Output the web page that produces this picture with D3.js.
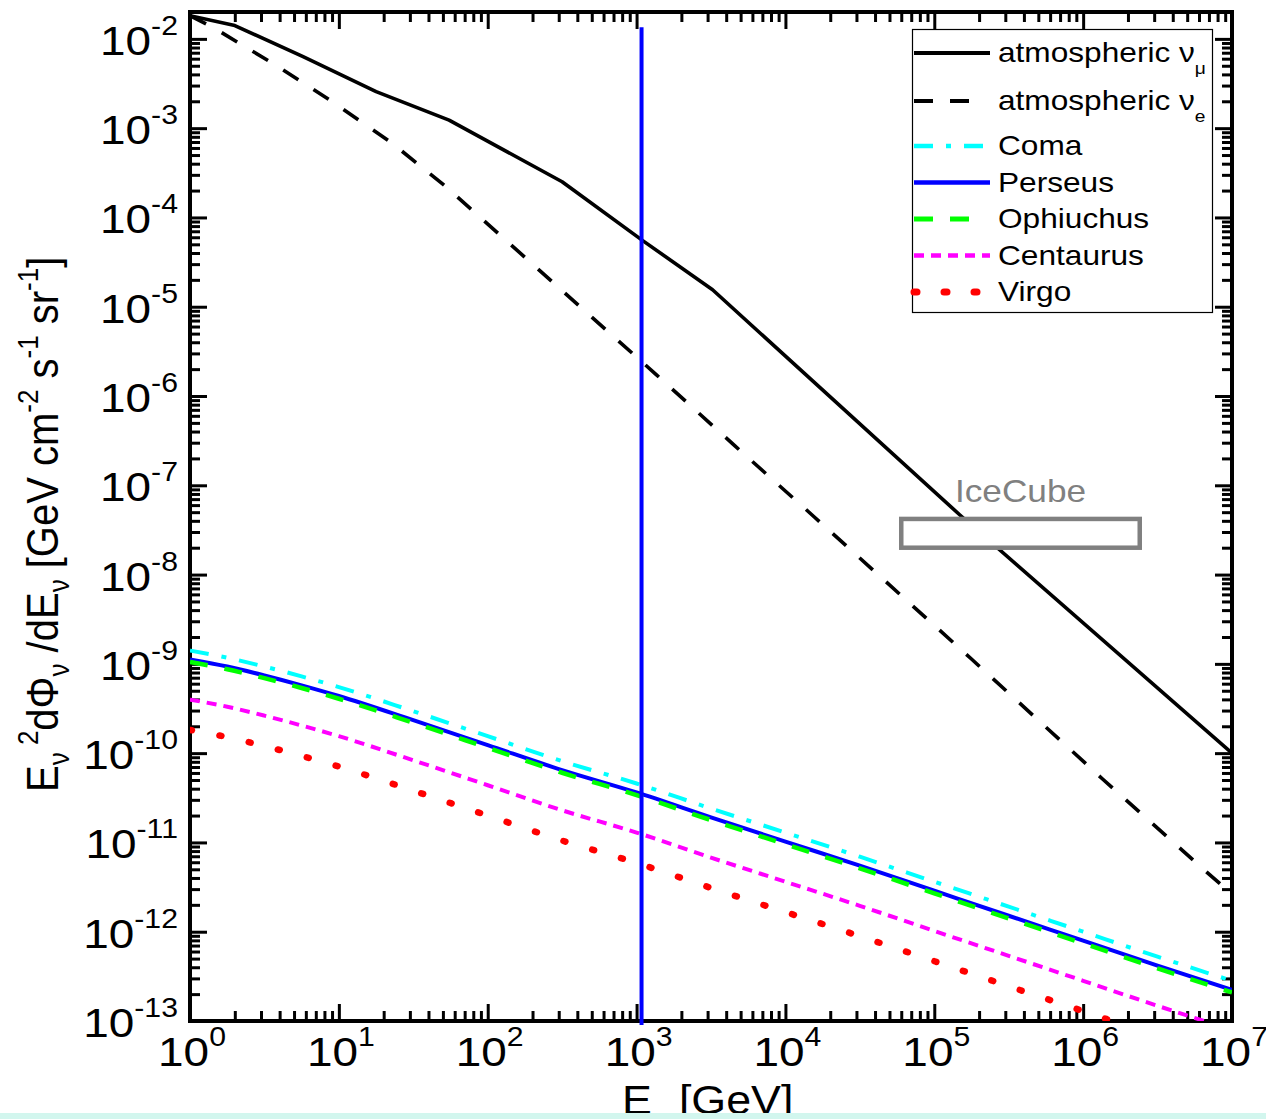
<!DOCTYPE html>
<html>
<head>
<meta charset="utf-8">
<script src="https://cdn.jsdelivr.net/npm/d3@7"></script>
<style>
  html, body { margin: 0; padding: 0; background: #ffffff; }
  svg { display: block; }
  text { font-family: "Liberation Sans", Arial, Helvetica, sans-serif; fill: #000; }
</style>
</head>
<body>
<svg id="chart" width="1266" height="1119"></svg>
<script>
// ---------------- data ----------------
// Energy grid (GeV) for the galaxy-cluster neutrino spectra
const clusterEnergy = [1, 1.78, 3.16, 5.62, 10, 31.6, 100, 316, 1e3, 3.16e3, 1e4, 3.16e4, 1e5, 3.16e5, 1e6, 3.16e6, 1e7];
// E^2 dPhi/dE  [GeV cm^-2 s^-1 sr^-1]
const comaFlux      = [1.41e-9, 1.17e-9, 9.33e-10, 7.24e-10, 5.50e-10, 2.95e-10, 1.55e-10, 8.13e-11, 4.57e-11, 2.40e-11, 1.29e-11, 6.92e-12, 3.63e-12, 1.91e-12, 1.00e-12, 5.25e-13, 2.82e-13];
const perseusFlux   = [1.12e-9, 9.33e-10, 7.41e-10, 5.75e-10, 4.37e-10, 2.34e-10, 1.23e-10, 6.46e-11, 3.63e-11, 1.91e-11, 1.02e-11, 5.50e-12, 2.88e-12, 1.51e-12, 7.94e-13, 4.17e-13, 2.24e-13];
const ophiuchusFlux = [1.05e-9, 8.71e-10, 6.92e-10, 5.37e-10, 4.07e-10, 2.19e-10, 1.15e-10, 6.03e-11, 3.39e-11, 1.78e-11, 9.55e-12, 5.13e-12, 2.69e-12, 1.41e-12, 7.41e-13, 3.89e-13, 2.09e-13];
const centaurusFlux = [3.98e-10, 3.31e-10, 2.63e-10, 2.04e-10, 1.55e-10, 8.32e-11, 4.37e-11, 2.29e-11, 1.29e-11, 6.76e-12, 3.63e-12, 1.95e-12, 1.02e-12, 5.37e-13, 2.82e-13, 1.48e-13, 7.94e-14];
const virgoFlux     = [1.82e-10, 1.51e-10, 1.20e-10, 9.33e-11, 7.08e-11, 3.80e-11, 2.00e-11, 1.05e-11, 5.89e-12, 3.09e-12, 1.66e-12, 8.91e-13, 4.68e-13, 2.45e-13, 1.29e-13, 6.76e-14, 3.63e-14];

// Atmospheric muon-neutrino background
const atmMuEnergy = [1, 2.0, 5.75, 17.8, 55.0, 316, 1100, 3240, 1.48e5, 1e7];
const atmMuFlux   = [1.82e-2, 1.41e-2, 6.31e-3, 2.57e-3, 1.23e-3, 2.51e-4, 5.50e-5, 1.55e-5, 4.68e-8, 1.0e-10];

// Atmospheric electron-neutrino background
const atmEEnergy = [1, 1.40, 2.20, 3.54, 8.95, 22.3, 52.2, 119, 266, 1343, 4560, 1.57e4, 1.77e5, 1.35e6, 6.76e6, 1e7];
const atmEFlux   = [1.82e-2, 1.37e-2, 8.71e-3, 5.41e-3, 2.00e-3, 6.98e-4, 2.22e-4, 6.52e-5, 1.96e-5, 1.76e-6, 2.78e-7, 4.39e-8, 1.14e-9, 5.14e-11, 4.65e-12, 2.63e-12];

// Vertical marker near 1 TeV
const markerEnergy = 1.08e3;
const markerFlux   = [9.0e-14, 1.35e-2];

// IceCube sensitivity band
const iceCubeEnergy = [6.0e4, 2.4e6];
const iceCubeFlux   = [2.0e-8, 4.2e-8];
const iceCubeLabel  = "IceCube";

// Axis tick labels (powers of ten)
const xTickExponents = ["0", "1", "2", "3", "4", "5", "6", "7"];
const yTickExponents = ["-2", "-3", "-4", "-5", "-6", "-7", "-8", "-9", "-10", "-11", "-12", "-13"];

// Legend entries
const legendNames = ["atmospheric ν", "atmospheric ν", "Coma", "Perseus", "Ophiuchus", "Centaurus", "Virgo"];
const legendSubs  = ["μ", "e", "", "", "", "", ""];

// ---------------- layout ----------------
const svg = d3.select("#chart");
const W = 1266, H = 1119;
const plot = { left: 190, right: 1232, top: 12, bottom: 1021 };
const SX = 1.12; // horizontal text stretch of the figure

svg.append("rect").attr("width", W).attr("height", H).attr("fill", "#ffffff");

const x = d3.scaleLog().domain([1, 1e7]).range([plot.left, plot.right]);
const y = d3.scaleLog().domain([1e-13, 2e-2]).range([plot.bottom, plot.top]);

// ---------------- ticks ----------------
const majorX = xTickExponents.map(e => Math.pow(10, +e));
const majorY = yTickExponents.map(e => Math.pow(10, +e));
const minorX = [];
for (let e = 0; e < 7; e++) for (let m = 2; m <= 9; m++) minorX.push(m * Math.pow(10, e));
const minorY = [];
for (let e = -13; e < -2; e++) for (let m = 2; m <= 9; m++) minorY.push(m * Math.pow(10, e));

const MAJ = 17, MIN = 10;
function drawAxis(axisFn, scale, values, size, tx, ty) {
  const g = svg.append("g")
    .attr("transform", `translate(${tx},${ty})`)
    .call(axisFn(scale).tickValues(values).tickSize(-size).tickFormat(""));
  g.select(".domain").remove();
  g.selectAll(".tick line").attr("stroke", "#000").attr("stroke-width", 3);
  return g;
}
drawAxis(d3.axisBottom, x, majorX, MAJ, 0, plot.bottom);
drawAxis(d3.axisBottom, x, minorX, MIN, 0, plot.bottom);
drawAxis(d3.axisTop, x, majorX, MAJ, 0, plot.top);
drawAxis(d3.axisTop, x, minorX, MIN, 0, plot.top);
drawAxis(d3.axisLeft, y, majorY, MAJ, plot.left, 0);
drawAxis(d3.axisLeft, y, minorY, MIN, plot.left, 0);
drawAxis(d3.axisRight, y, majorY, MAJ, plot.right, 0);
drawAxis(d3.axisRight, y, minorY, MIN, plot.right, 0);

// frame
svg.append("rect")
  .attr("x", plot.left).attr("y", plot.top)
  .attr("width", plot.right - plot.left).attr("height", plot.bottom - plot.top)
  .attr("fill", "none").attr("stroke", "#000").attr("stroke-width", 4);

// tick labels: 10 with a superscript exponent
function powerLabel(tx, ty, exp, anchor) {
  const t = svg.append("g")
    .attr("transform", `translate(${tx},${ty}) scale(${SX},1)`)
    .append("text").attr("text-anchor", anchor);
  t.append("tspan").attr("font-size", 41).text("10");
  t.append("tspan").attr("font-size", 27).attr("dy", -20).text(exp);
}
yTickExponents.forEach((e, i) => powerLabel(178, y(majorY[i]) + 16, e, "end"));
xTickExponents.forEach((e, i) => powerLabel(x(majorX[i]) + 2, 1066, e, "middle"));

// axis titles
{
  const t = svg.append("g")
    .attr("transform", `translate(622,1114) scale(${SX},1)`)
    .append("text");
  t.append("tspan").attr("font-size", 40).text("E");
  t.append("tspan").attr("font-size", 26).attr("dy", 17).text("ν");
  t.append("tspan").attr("font-size", 40).attr("dy", -17).text(" [GeV]");
}
{
  const t = svg.append("g")
    .attr("transform", `translate(58,792) rotate(-90) scale(1,${SX})`)
    .append("text").attr("text-anchor", "start");
  const parts = [
    ["E", 40, 0], ["ν", 26, 10], [" 2", 26, -28], ["dΦ", 40, 18], ["ν", 26, 10],
    [" /dE", 40, -10], ["ν", 26, 10], [" [GeV cm", 40, -10], ["-2", 26, -18],
    [" s", 40, 18], ["-1", 26, -18], [" sr", 40, 18], ["-1", 26, -18], ["]", 40, 18]
  ];
  parts.forEach(([s, fs, dy]) => t.append("tspan").attr("font-size", fs).attr("dy", dy).text(s));
}

// ---------------- curves ----------------
svg.append("clipPath").attr("id", "plotClip")
  .append("rect")
  .attr("x", plot.left).attr("y", plot.top)
  .attr("width", plot.right - plot.left).attr("height", plot.bottom - plot.top);
const layer = svg.append("g").attr("clip-path", "url(#plotClip)");

const lineLinear = d3.line().x(d => x(d[0])).y(d => y(d[1]));
const lineSmooth = d3.line().x(d => x(d[0])).y(d => y(d[1])).curve(d3.curveMonotoneX);

const styles = [
  { color: "#000000", width: 3.6, dash: null, cap: "butt" },
  { color: "#000000", width: 3.6, dash: "18,18", cap: "butt" },
  { color: "#00ffff", width: 4, dash: "19,13,5,13", cap: "butt" },
  { color: "#0000ff", width: 4, dash: null, cap: "butt" },
  { color: "#00ff00", width: 4.5, dash: "18,17", cap: "butt" },
  { color: "#ff00ff", width: 4, dash: "10,7", cap: "butt" },
  { color: "#ff0000", width: 6.5, dash: "2,28", cap: "round" }
];

const series = [
  { e: atmMuEnergy, f: atmMuFlux, gen: lineLinear },
  { e: atmEEnergy, f: atmEFlux, gen: lineLinear },
  { e: clusterEnergy, f: comaFlux, gen: lineSmooth },
  { e: clusterEnergy, f: perseusFlux, gen: lineSmooth },
  { e: clusterEnergy, f: ophiuchusFlux, gen: lineSmooth },
  { e: clusterEnergy, f: centaurusFlux, gen: lineSmooth },
  { e: clusterEnergy, f: virgoFlux, gen: lineSmooth }
];

series.forEach((s, i) => {
  const st = styles[i];
  const pts = s.e.map((v, k) => [v, s.f[k]]);
  layer.append("path")
    .attr("d", s.gen(pts))
    .attr("fill", "none")
    .attr("stroke", st.color)
    .attr("stroke-width", st.width)
    .attr("stroke-dasharray", st.dash)
    .attr("stroke-linecap", st.cap)
    .attr("stroke-linejoin", "round");
});

// vertical marker line
svg.append("line")
  .attr("x1", x(markerEnergy)).attr("x2", x(markerEnergy))
  .attr("y1", y(markerFlux[0])).attr("y2", y(markerFlux[1]))
  .attr("stroke", "#0000ff").attr("stroke-width", 4);

// IceCube band
svg.append("rect")
  .attr("x", x(iceCubeEnergy[0])).attr("y", y(iceCubeFlux[1]))
  .attr("width", x(iceCubeEnergy[1]) - x(iceCubeEnergy[0]))
  .attr("height", y(iceCubeFlux[0]) - y(iceCubeFlux[1]))
  .attr("fill", "#ffffff").attr("stroke", "#808080").attr("stroke-width", 4.5);
svg.append("g")
  .attr("transform", `translate(${(x(iceCubeEnergy[0]) + x(iceCubeEnergy[1])) / 2},${y(iceCubeFlux[1]) - 17}) scale(1.1,1)`)
  .append("text").attr("text-anchor", "middle").attr("font-size", 32)
  .style("fill", "#808080").text(iceCubeLabel);

// ---------------- legend ----------------
const legend = svg.append("g");
legend.append("rect")
  .attr("x", 912.5).attr("y", 29.5).attr("width", 300).attr("height", 283)
  .attr("fill", "#ffffff").attr("stroke", "#000").attr("stroke-width", 1.2);
const rowY = [53, 101, 146, 182.5, 219, 255.5, 292];
const sampleEnd = [990, 971, 990, 990, 971, 990, 990];
legendNames.forEach((name, i) => {
  const st = styles[i];
  legend.append("line")
    .attr("x1", 914).attr("x2", sampleEnd[i]).attr("y1", rowY[i]).attr("y2", rowY[i])
    .attr("stroke", st.color).attr("stroke-width", i === 6 ? 7 : st.width + 0.5)
    .attr("stroke-dasharray", i === 6 ? "3,27" : (i === 1 || i === 4 ? "19,17" : st.dash))
    .attr("stroke-linecap", st.cap);
  const t = legend.append("g")
    .attr("transform", `translate(998,${rowY[i] + 9}) scale(1.13,1)`)
    .append("text");
  t.append("tspan").attr("font-size", 28).text(name);
  if (legendSubs[i]) t.append("tspan").attr("font-size", 17).attr("dy", 12).text(legendSubs[i]);
});

// strip along the lower edge
svg.append("rect").attr("x", 0).attr("y", 1113).attr("width", W).attr("height", 6).attr("fill", "#d2f6ee");
</script>
</body>
</html>
